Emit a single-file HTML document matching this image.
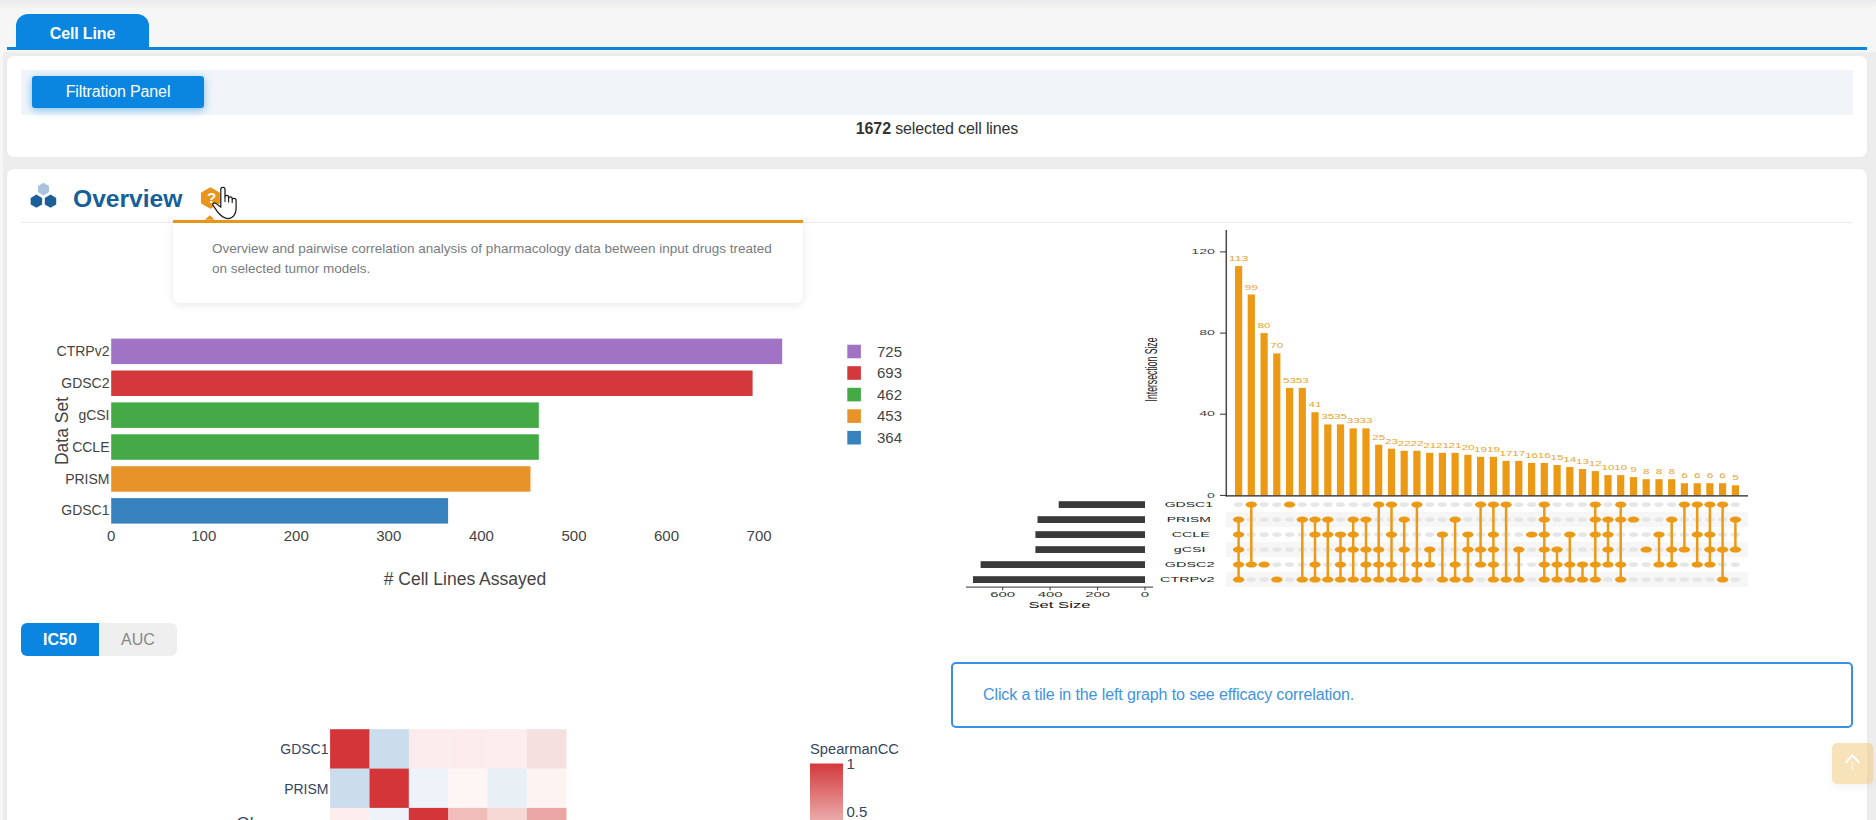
<!DOCTYPE html>
<html><head><meta charset="utf-8">
<style>
*{box-sizing:border-box;margin:0;padding:0}
html,body{width:1876px;height:820px;overflow:hidden}
body{background:#f6f6f6;font-family:"Liberation Sans",sans-serif;position:relative;color:#333}
.abs{position:absolute}
#topbg{left:2.5px;top:51.6px;width:1874px;height:780px;background:#ededed}
#topshadow{left:0;top:0;width:1876px;height:9px;background:linear-gradient(#e7e9eb,#efefef 30%,#f6f6f6)}
#tab{left:16px;top:14px;width:133px;height:34px;background:#0a86e0;border-radius:12px 12px 0 0;color:#fff;font-weight:bold;font-size:16px;text-align:center;line-height:40px;letter-spacing:-.15px}
#tabline{left:7px;top:47px;width:1860px;height:3px;background:#0d86da}
.card{background:#fff;border-radius:7px;box-shadow:0 0 3px rgba(0,0,0,.04)}
#card1{left:7px;top:56px;width:1860px;height:101px}
#card2{left:7px;top:169px;width:1860px;height:700px}
#fbar{left:21px;top:70px;width:1832px;height:45px;background:#f1f5fa}
#fbtn{left:32px;top:76px;width:172px;height:32px;background:#0a86e0;border-radius:3px;color:#fff;font-size:16px;text-align:center;line-height:31px;letter-spacing:-.13px;box-shadow:0 2px 8px rgba(10,134,224,.5)}
#sel{left:0;top:119px;width:1874px;letter-spacing:-.13px;text-align:center;font-size:16px;color:#333;line-height:20px}
#ovt{left:73px;top:183.5px;font-size:24.6px;font-weight:bold;color:#15609a;line-height:30px}
#hr{left:21px;top:222px;width:1832px;height:1px;background:#ececec}
#tip{left:173px;top:219.7px;width:630px;height:83px;background:#fff;border-top:3px solid #e8951c;border-radius:0 0 6px 6px;box-shadow:0 2px 9px rgba(0,0,0,.09)}
#tiptxt{left:212px;top:239.4px;width:600px;font-size:13.5px;line-height:20px;color:#787c82}
#ic50{left:21px;top:623px;width:78px;height:33px;background:#0a86e0;color:#fff;font-weight:bold;font-size:16px;text-align:center;line-height:33px;border-radius:6px 0 0 6px}
#auc{left:99px;top:623px;width:78px;height:33px;background:#efefef;color:#888;font-size:16px;text-align:center;line-height:33px;border-radius:0 6px 6px 0}
#info{left:951px;top:662px;width:902px;height:66px;border:2px solid #3a8fe2;border-radius:5px;color:#4193e0;font-size:16px;line-height:61px;padding-left:30px;background:#fff;letter-spacing:-.11px}
#totop{left:1832px;top:743px;width:41px;height:41px;background:rgba(241,197,115,.5);border-radius:5px;box-shadow:0 3px 10px rgba(0,0,0,.05)}
svg text{font-family:"Liberation Sans",sans-serif}
</style></head><body>
<div class="abs" id="topbg"></div>
<div class="abs" id="topshadow"></div>
<div class="abs" id="tabline"></div>
<div class="abs" id="tab">Cell Line</div>
<div class="abs card" id="card1"></div>
<div class="abs" id="fbar"></div>
<div class="abs" id="fbtn">Filtration Panel</div>
<div class="abs" id="sel"><b>1672</b> selected cell lines</div>
<div class="abs card" id="card2"></div>
<div class="abs" id="hr"></div>
<div class="abs" id="ovt">Overview</div>
<!--ICONS--><svg class="abs" style="left:20px;top:175px" width="240" height="50" viewBox="20 175 240 50">
<polygon points="43.50,182.80 48.96,185.95 48.96,192.25 43.50,195.40 38.04,192.25 38.04,185.95" fill="#a9c3de"/>
<polygon points="36.40,194.60 42.12,197.90 42.12,204.50 36.40,207.80 30.68,204.50 30.68,197.90" fill="#1b5e98"/>
<polygon points="50.50,194.60 56.22,197.90 56.22,204.50 50.50,207.80 44.78,204.50 44.78,197.90" fill="#1b5e98"/>
<polygon points="210.40,187.70 219.32,192.85 219.32,203.15 210.40,208.30 201.48,203.15 201.48,192.85" fill="#e8951c" stroke="#e8951c" stroke-width="1" stroke-linejoin="round"/>
<text x="211.5" y="203.4" text-anchor="middle" font-size="15" font-weight="bold" fill="#fff">?</text>
</svg><!--/ICONS-->
<!--BARCHART--><svg class="abs" style="left:0;top:320px" width="940" height="290" viewBox="0 320 940 290">
<rect x="111.2" y="338.6" width="671.0" height="25.5" fill="#a173c4"/>
<text x="109.5" y="355.9" text-anchor="end" font-size="14" fill="#444" class="pl">CTRPv2</text>
<rect x="111.2" y="370.5" width="641.4" height="25.5" fill="#d3393c"/>
<text x="109.5" y="387.8" text-anchor="end" font-size="14" fill="#444" class="pl">GDSC2</text>
<rect x="111.2" y="402.4" width="427.6" height="25.5" fill="#43aa45"/>
<text x="109.5" y="419.7" text-anchor="end" font-size="14" fill="#444" class="pl">gCSI</text>
<rect x="111.2" y="434.3" width="427.6" height="25.5" fill="#43aa45"/>
<text x="109.5" y="451.6" text-anchor="end" font-size="14" fill="#444" class="pl">CCLE</text>
<rect x="111.2" y="466.2" width="419.3" height="25.5" fill="#e8932a"/>
<text x="109.5" y="483.5" text-anchor="end" font-size="14" fill="#444" class="pl">PRISM</text>
<rect x="111.2" y="498.1" width="336.9" height="25.5" fill="#3782bd"/>
<text x="109.5" y="515.4" text-anchor="end" font-size="14" fill="#444" class="pl">GDSC1</text>
<text x="111.2" y="540.8" text-anchor="middle" font-size="15" fill="#444" class="pl">0</text>
<text x="203.8" y="540.8" text-anchor="middle" font-size="15" fill="#444" class="pl">100</text>
<text x="296.3" y="540.8" text-anchor="middle" font-size="15" fill="#444" class="pl">200</text>
<text x="388.8" y="540.8" text-anchor="middle" font-size="15" fill="#444" class="pl">300</text>
<text x="481.4" y="540.8" text-anchor="middle" font-size="15" fill="#444" class="pl">400</text>
<text x="574.0" y="540.8" text-anchor="middle" font-size="15" fill="#444" class="pl">500</text>
<text x="666.5" y="540.8" text-anchor="middle" font-size="15" fill="#444" class="pl">600</text>
<text x="759.1" y="540.8" text-anchor="middle" font-size="15" fill="#444" class="pl">700</text>
<text x="465" y="585" text-anchor="middle" font-size="17.5" fill="#444" class="pl2"># Cell Lines Assayed</text>
<text transform="translate(68,431) rotate(-90)" text-anchor="middle" font-size="17.5" fill="#444" class="pl2">Data Set</text>
<rect x="847.3" y="344.7" width="13.6" height="13.6" fill="#a173c4"/>
<text x="877" y="356.8" font-size="15" fill="#444" class="pl">725</text>
<rect x="847.3" y="366.2" width="13.6" height="13.6" fill="#d3393c"/>
<text x="877" y="378.4" font-size="15" fill="#444" class="pl">693</text>
<rect x="847.3" y="387.8" width="13.6" height="13.6" fill="#43aa45"/>
<text x="877" y="399.9" font-size="15" fill="#444" class="pl">462</text>
<rect x="847.3" y="409.3" width="13.6" height="13.6" fill="#e8932a"/>
<text x="877" y="421.4" font-size="15" fill="#444" class="pl">453</text>
<rect x="847.3" y="430.9" width="13.6" height="13.6" fill="#3782bd"/>
<text x="877" y="443.0" font-size="15" fill="#444" class="pl">364</text>
</svg><!--/BARCHART-->
<!--UPSET--><svg class="abs" style="left:940px;top:224px" width="913" height="396" viewBox="940 224 913 396">
<rect x="1226" y="512.1" width="522" height="15" fill="#f6f6f6"/>
<rect x="1226" y="542.1" width="522" height="15" fill="#f6f6f6"/>
<rect x="1226" y="572.1" width="522" height="15" fill="#f6f6f6"/>
<ellipse cx="1238.6" cy="504.6" rx="4.6" ry="2.3" fill="#e6e6e6"/>
<ellipse cx="1251.3" cy="519.6" rx="4.6" ry="2.3" fill="#e6e6e6"/>
<ellipse cx="1251.3" cy="534.6" rx="4.6" ry="2.3" fill="#e6e6e6"/>
<ellipse cx="1251.3" cy="549.6" rx="4.6" ry="2.3" fill="#e6e6e6"/>
<ellipse cx="1251.3" cy="579.6" rx="4.6" ry="2.3" fill="#e6e6e6"/>
<ellipse cx="1264.1" cy="504.6" rx="4.6" ry="2.3" fill="#e6e6e6"/>
<ellipse cx="1264.1" cy="519.6" rx="4.6" ry="2.3" fill="#e6e6e6"/>
<ellipse cx="1264.1" cy="534.6" rx="4.6" ry="2.3" fill="#e6e6e6"/>
<ellipse cx="1264.1" cy="549.6" rx="4.6" ry="2.3" fill="#e6e6e6"/>
<ellipse cx="1264.1" cy="579.6" rx="4.6" ry="2.3" fill="#e6e6e6"/>
<ellipse cx="1276.8" cy="504.6" rx="4.6" ry="2.3" fill="#e6e6e6"/>
<ellipse cx="1276.8" cy="519.6" rx="4.6" ry="2.3" fill="#e6e6e6"/>
<ellipse cx="1276.8" cy="534.6" rx="4.6" ry="2.3" fill="#e6e6e6"/>
<ellipse cx="1276.8" cy="549.6" rx="4.6" ry="2.3" fill="#e6e6e6"/>
<ellipse cx="1276.8" cy="564.6" rx="4.6" ry="2.3" fill="#e6e6e6"/>
<ellipse cx="1289.6" cy="519.6" rx="4.6" ry="2.3" fill="#e6e6e6"/>
<ellipse cx="1289.6" cy="534.6" rx="4.6" ry="2.3" fill="#e6e6e6"/>
<ellipse cx="1289.6" cy="549.6" rx="4.6" ry="2.3" fill="#e6e6e6"/>
<ellipse cx="1289.6" cy="564.6" rx="4.6" ry="2.3" fill="#e6e6e6"/>
<ellipse cx="1289.6" cy="579.6" rx="4.6" ry="2.3" fill="#e6e6e6"/>
<ellipse cx="1302.3" cy="504.6" rx="4.6" ry="2.3" fill="#e6e6e6"/>
<ellipse cx="1302.3" cy="534.6" rx="4.6" ry="2.3" fill="#e6e6e6"/>
<ellipse cx="1302.3" cy="549.6" rx="4.6" ry="2.3" fill="#e6e6e6"/>
<ellipse cx="1302.3" cy="564.6" rx="4.6" ry="2.3" fill="#e6e6e6"/>
<ellipse cx="1315.0" cy="504.6" rx="4.6" ry="2.3" fill="#e6e6e6"/>
<ellipse cx="1315.0" cy="549.6" rx="4.6" ry="2.3" fill="#e6e6e6"/>
<ellipse cx="1327.8" cy="504.6" rx="4.6" ry="2.3" fill="#e6e6e6"/>
<ellipse cx="1327.8" cy="549.6" rx="4.6" ry="2.3" fill="#e6e6e6"/>
<ellipse cx="1327.8" cy="564.6" rx="4.6" ry="2.3" fill="#e6e6e6"/>
<ellipse cx="1340.5" cy="504.6" rx="4.6" ry="2.3" fill="#e6e6e6"/>
<ellipse cx="1340.5" cy="519.6" rx="4.6" ry="2.3" fill="#e6e6e6"/>
<ellipse cx="1353.2" cy="504.6" rx="4.6" ry="2.3" fill="#e6e6e6"/>
<ellipse cx="1353.2" cy="564.6" rx="4.6" ry="2.3" fill="#e6e6e6"/>
<ellipse cx="1366.0" cy="504.6" rx="4.6" ry="2.3" fill="#e6e6e6"/>
<ellipse cx="1366.0" cy="534.6" rx="4.6" ry="2.3" fill="#e6e6e6"/>
<ellipse cx="1378.7" cy="519.6" rx="4.6" ry="2.3" fill="#e6e6e6"/>
<ellipse cx="1378.7" cy="534.6" rx="4.6" ry="2.3" fill="#e6e6e6"/>
<ellipse cx="1391.5" cy="519.6" rx="4.6" ry="2.3" fill="#e6e6e6"/>
<ellipse cx="1391.5" cy="549.6" rx="4.6" ry="2.3" fill="#e6e6e6"/>
<ellipse cx="1404.2" cy="504.6" rx="4.6" ry="2.3" fill="#e6e6e6"/>
<ellipse cx="1404.2" cy="534.6" rx="4.6" ry="2.3" fill="#e6e6e6"/>
<ellipse cx="1404.2" cy="564.6" rx="4.6" ry="2.3" fill="#e6e6e6"/>
<ellipse cx="1416.9" cy="519.6" rx="4.6" ry="2.3" fill="#e6e6e6"/>
<ellipse cx="1416.9" cy="534.6" rx="4.6" ry="2.3" fill="#e6e6e6"/>
<ellipse cx="1416.9" cy="549.6" rx="4.6" ry="2.3" fill="#e6e6e6"/>
<ellipse cx="1429.7" cy="504.6" rx="4.6" ry="2.3" fill="#e6e6e6"/>
<ellipse cx="1429.7" cy="519.6" rx="4.6" ry="2.3" fill="#e6e6e6"/>
<ellipse cx="1429.7" cy="534.6" rx="4.6" ry="2.3" fill="#e6e6e6"/>
<ellipse cx="1429.7" cy="579.6" rx="4.6" ry="2.3" fill="#e6e6e6"/>
<ellipse cx="1442.4" cy="504.6" rx="4.6" ry="2.3" fill="#e6e6e6"/>
<ellipse cx="1442.4" cy="519.6" rx="4.6" ry="2.3" fill="#e6e6e6"/>
<ellipse cx="1442.4" cy="549.6" rx="4.6" ry="2.3" fill="#e6e6e6"/>
<ellipse cx="1442.4" cy="564.6" rx="4.6" ry="2.3" fill="#e6e6e6"/>
<ellipse cx="1455.1" cy="504.6" rx="4.6" ry="2.3" fill="#e6e6e6"/>
<ellipse cx="1455.1" cy="534.6" rx="4.6" ry="2.3" fill="#e6e6e6"/>
<ellipse cx="1455.1" cy="549.6" rx="4.6" ry="2.3" fill="#e6e6e6"/>
<ellipse cx="1467.9" cy="504.6" rx="4.6" ry="2.3" fill="#e6e6e6"/>
<ellipse cx="1467.9" cy="519.6" rx="4.6" ry="2.3" fill="#e6e6e6"/>
<ellipse cx="1467.9" cy="564.6" rx="4.6" ry="2.3" fill="#e6e6e6"/>
<ellipse cx="1480.6" cy="519.6" rx="4.6" ry="2.3" fill="#e6e6e6"/>
<ellipse cx="1480.6" cy="534.6" rx="4.6" ry="2.3" fill="#e6e6e6"/>
<ellipse cx="1480.6" cy="579.6" rx="4.6" ry="2.3" fill="#e6e6e6"/>
<ellipse cx="1493.4" cy="519.6" rx="4.6" ry="2.3" fill="#e6e6e6"/>
<ellipse cx="1506.1" cy="519.6" rx="4.6" ry="2.3" fill="#e6e6e6"/>
<ellipse cx="1506.1" cy="534.6" rx="4.6" ry="2.3" fill="#e6e6e6"/>
<ellipse cx="1506.1" cy="549.6" rx="4.6" ry="2.3" fill="#e6e6e6"/>
<ellipse cx="1506.1" cy="564.6" rx="4.6" ry="2.3" fill="#e6e6e6"/>
<ellipse cx="1518.8" cy="504.6" rx="4.6" ry="2.3" fill="#e6e6e6"/>
<ellipse cx="1518.8" cy="519.6" rx="4.6" ry="2.3" fill="#e6e6e6"/>
<ellipse cx="1518.8" cy="534.6" rx="4.6" ry="2.3" fill="#e6e6e6"/>
<ellipse cx="1518.8" cy="564.6" rx="4.6" ry="2.3" fill="#e6e6e6"/>
<ellipse cx="1531.6" cy="504.6" rx="4.6" ry="2.3" fill="#e6e6e6"/>
<ellipse cx="1531.6" cy="519.6" rx="4.6" ry="2.3" fill="#e6e6e6"/>
<ellipse cx="1531.6" cy="549.6" rx="4.6" ry="2.3" fill="#e6e6e6"/>
<ellipse cx="1531.6" cy="564.6" rx="4.6" ry="2.3" fill="#e6e6e6"/>
<ellipse cx="1531.6" cy="579.6" rx="4.6" ry="2.3" fill="#e6e6e6"/>
<ellipse cx="1557.0" cy="504.6" rx="4.6" ry="2.3" fill="#e6e6e6"/>
<ellipse cx="1557.0" cy="519.6" rx="4.6" ry="2.3" fill="#e6e6e6"/>
<ellipse cx="1557.0" cy="534.6" rx="4.6" ry="2.3" fill="#e6e6e6"/>
<ellipse cx="1569.8" cy="504.6" rx="4.6" ry="2.3" fill="#e6e6e6"/>
<ellipse cx="1569.8" cy="519.6" rx="4.6" ry="2.3" fill="#e6e6e6"/>
<ellipse cx="1569.8" cy="549.6" rx="4.6" ry="2.3" fill="#e6e6e6"/>
<ellipse cx="1582.5" cy="504.6" rx="4.6" ry="2.3" fill="#e6e6e6"/>
<ellipse cx="1582.5" cy="519.6" rx="4.6" ry="2.3" fill="#e6e6e6"/>
<ellipse cx="1582.5" cy="534.6" rx="4.6" ry="2.3" fill="#e6e6e6"/>
<ellipse cx="1582.5" cy="549.6" rx="4.6" ry="2.3" fill="#e6e6e6"/>
<ellipse cx="1595.3" cy="549.6" rx="4.6" ry="2.3" fill="#e6e6e6"/>
<ellipse cx="1608.0" cy="504.6" rx="4.6" ry="2.3" fill="#e6e6e6"/>
<ellipse cx="1608.0" cy="579.6" rx="4.6" ry="2.3" fill="#e6e6e6"/>
<ellipse cx="1620.7" cy="534.6" rx="4.6" ry="2.3" fill="#e6e6e6"/>
<ellipse cx="1620.7" cy="549.6" rx="4.6" ry="2.3" fill="#e6e6e6"/>
<ellipse cx="1633.5" cy="504.6" rx="4.6" ry="2.3" fill="#e6e6e6"/>
<ellipse cx="1633.5" cy="534.6" rx="4.6" ry="2.3" fill="#e6e6e6"/>
<ellipse cx="1633.5" cy="549.6" rx="4.6" ry="2.3" fill="#e6e6e6"/>
<ellipse cx="1633.5" cy="564.6" rx="4.6" ry="2.3" fill="#e6e6e6"/>
<ellipse cx="1633.5" cy="579.6" rx="4.6" ry="2.3" fill="#e6e6e6"/>
<ellipse cx="1646.2" cy="504.6" rx="4.6" ry="2.3" fill="#e6e6e6"/>
<ellipse cx="1646.2" cy="519.6" rx="4.6" ry="2.3" fill="#e6e6e6"/>
<ellipse cx="1646.2" cy="534.6" rx="4.6" ry="2.3" fill="#e6e6e6"/>
<ellipse cx="1646.2" cy="564.6" rx="4.6" ry="2.3" fill="#e6e6e6"/>
<ellipse cx="1646.2" cy="579.6" rx="4.6" ry="2.3" fill="#e6e6e6"/>
<ellipse cx="1659.0" cy="504.6" rx="4.6" ry="2.3" fill="#e6e6e6"/>
<ellipse cx="1659.0" cy="519.6" rx="4.6" ry="2.3" fill="#e6e6e6"/>
<ellipse cx="1659.0" cy="549.6" rx="4.6" ry="2.3" fill="#e6e6e6"/>
<ellipse cx="1659.0" cy="579.6" rx="4.6" ry="2.3" fill="#e6e6e6"/>
<ellipse cx="1671.7" cy="504.6" rx="4.6" ry="2.3" fill="#e6e6e6"/>
<ellipse cx="1671.7" cy="534.6" rx="4.6" ry="2.3" fill="#e6e6e6"/>
<ellipse cx="1671.7" cy="579.6" rx="4.6" ry="2.3" fill="#e6e6e6"/>
<ellipse cx="1684.4" cy="519.6" rx="4.6" ry="2.3" fill="#e6e6e6"/>
<ellipse cx="1684.4" cy="534.6" rx="4.6" ry="2.3" fill="#e6e6e6"/>
<ellipse cx="1684.4" cy="564.6" rx="4.6" ry="2.3" fill="#e6e6e6"/>
<ellipse cx="1684.4" cy="579.6" rx="4.6" ry="2.3" fill="#e6e6e6"/>
<ellipse cx="1697.2" cy="519.6" rx="4.6" ry="2.3" fill="#e6e6e6"/>
<ellipse cx="1697.2" cy="549.6" rx="4.6" ry="2.3" fill="#e6e6e6"/>
<ellipse cx="1697.2" cy="579.6" rx="4.6" ry="2.3" fill="#e6e6e6"/>
<ellipse cx="1709.9" cy="519.6" rx="4.6" ry="2.3" fill="#e6e6e6"/>
<ellipse cx="1709.9" cy="579.6" rx="4.6" ry="2.3" fill="#e6e6e6"/>
<ellipse cx="1722.6" cy="519.6" rx="4.6" ry="2.3" fill="#e6e6e6"/>
<ellipse cx="1722.6" cy="534.6" rx="4.6" ry="2.3" fill="#e6e6e6"/>
<ellipse cx="1722.6" cy="564.6" rx="4.6" ry="2.3" fill="#e6e6e6"/>
<ellipse cx="1735.4" cy="504.6" rx="4.6" ry="2.3" fill="#e6e6e6"/>
<ellipse cx="1735.4" cy="534.6" rx="4.6" ry="2.3" fill="#e6e6e6"/>
<ellipse cx="1735.4" cy="564.6" rx="4.6" ry="2.3" fill="#e6e6e6"/>
<ellipse cx="1735.4" cy="579.6" rx="4.6" ry="2.3" fill="#e6e6e6"/>
<line x1="1238.6" x2="1238.6" y1="519.6" y2="579.6" stroke="#ec9916" stroke-width="2.5"/>
<ellipse cx="1238.6" cy="519.6" rx="5.7" ry="3" fill="#ec9916"/>
<ellipse cx="1238.6" cy="534.6" rx="5.7" ry="3" fill="#ec9916"/>
<ellipse cx="1238.6" cy="549.6" rx="5.7" ry="3" fill="#ec9916"/>
<ellipse cx="1238.6" cy="564.6" rx="5.7" ry="3" fill="#ec9916"/>
<ellipse cx="1238.6" cy="579.6" rx="5.7" ry="3" fill="#ec9916"/>
<line x1="1251.3" x2="1251.3" y1="504.6" y2="564.6" stroke="#ec9916" stroke-width="2.5"/>
<ellipse cx="1251.3" cy="504.6" rx="5.7" ry="3" fill="#ec9916"/>
<ellipse cx="1251.3" cy="564.6" rx="5.7" ry="3" fill="#ec9916"/>
<ellipse cx="1264.1" cy="564.6" rx="5.7" ry="3" fill="#ec9916"/>
<ellipse cx="1276.8" cy="579.6" rx="5.7" ry="3" fill="#ec9916"/>
<ellipse cx="1289.6" cy="504.6" rx="5.7" ry="3" fill="#ec9916"/>
<line x1="1302.3" x2="1302.3" y1="519.6" y2="579.6" stroke="#ec9916" stroke-width="2.5"/>
<ellipse cx="1302.3" cy="519.6" rx="5.7" ry="3" fill="#ec9916"/>
<ellipse cx="1302.3" cy="579.6" rx="5.7" ry="3" fill="#ec9916"/>
<line x1="1315.0" x2="1315.0" y1="519.6" y2="579.6" stroke="#ec9916" stroke-width="2.5"/>
<ellipse cx="1315.0" cy="519.6" rx="5.7" ry="3" fill="#ec9916"/>
<ellipse cx="1315.0" cy="534.6" rx="5.7" ry="3" fill="#ec9916"/>
<ellipse cx="1315.0" cy="564.6" rx="5.7" ry="3" fill="#ec9916"/>
<ellipse cx="1315.0" cy="579.6" rx="5.7" ry="3" fill="#ec9916"/>
<line x1="1327.8" x2="1327.8" y1="519.6" y2="579.6" stroke="#ec9916" stroke-width="2.5"/>
<ellipse cx="1327.8" cy="519.6" rx="5.7" ry="3" fill="#ec9916"/>
<ellipse cx="1327.8" cy="534.6" rx="5.7" ry="3" fill="#ec9916"/>
<ellipse cx="1327.8" cy="579.6" rx="5.7" ry="3" fill="#ec9916"/>
<line x1="1340.5" x2="1340.5" y1="534.6" y2="579.6" stroke="#ec9916" stroke-width="2.5"/>
<ellipse cx="1340.5" cy="534.6" rx="5.7" ry="3" fill="#ec9916"/>
<ellipse cx="1340.5" cy="549.6" rx="5.7" ry="3" fill="#ec9916"/>
<ellipse cx="1340.5" cy="564.6" rx="5.7" ry="3" fill="#ec9916"/>
<ellipse cx="1340.5" cy="579.6" rx="5.7" ry="3" fill="#ec9916"/>
<line x1="1353.2" x2="1353.2" y1="519.6" y2="579.6" stroke="#ec9916" stroke-width="2.5"/>
<ellipse cx="1353.2" cy="519.6" rx="5.7" ry="3" fill="#ec9916"/>
<ellipse cx="1353.2" cy="534.6" rx="5.7" ry="3" fill="#ec9916"/>
<ellipse cx="1353.2" cy="549.6" rx="5.7" ry="3" fill="#ec9916"/>
<ellipse cx="1353.2" cy="579.6" rx="5.7" ry="3" fill="#ec9916"/>
<line x1="1366.0" x2="1366.0" y1="519.6" y2="579.6" stroke="#ec9916" stroke-width="2.5"/>
<ellipse cx="1366.0" cy="519.6" rx="5.7" ry="3" fill="#ec9916"/>
<ellipse cx="1366.0" cy="549.6" rx="5.7" ry="3" fill="#ec9916"/>
<ellipse cx="1366.0" cy="564.6" rx="5.7" ry="3" fill="#ec9916"/>
<ellipse cx="1366.0" cy="579.6" rx="5.7" ry="3" fill="#ec9916"/>
<line x1="1378.7" x2="1378.7" y1="504.6" y2="579.6" stroke="#ec9916" stroke-width="2.5"/>
<ellipse cx="1378.7" cy="504.6" rx="5.7" ry="3" fill="#ec9916"/>
<ellipse cx="1378.7" cy="549.6" rx="5.7" ry="3" fill="#ec9916"/>
<ellipse cx="1378.7" cy="564.6" rx="5.7" ry="3" fill="#ec9916"/>
<ellipse cx="1378.7" cy="579.6" rx="5.7" ry="3" fill="#ec9916"/>
<line x1="1391.5" x2="1391.5" y1="504.6" y2="579.6" stroke="#ec9916" stroke-width="2.5"/>
<ellipse cx="1391.5" cy="504.6" rx="5.7" ry="3" fill="#ec9916"/>
<ellipse cx="1391.5" cy="534.6" rx="5.7" ry="3" fill="#ec9916"/>
<ellipse cx="1391.5" cy="564.6" rx="5.7" ry="3" fill="#ec9916"/>
<ellipse cx="1391.5" cy="579.6" rx="5.7" ry="3" fill="#ec9916"/>
<line x1="1404.2" x2="1404.2" y1="519.6" y2="579.6" stroke="#ec9916" stroke-width="2.5"/>
<ellipse cx="1404.2" cy="519.6" rx="5.7" ry="3" fill="#ec9916"/>
<ellipse cx="1404.2" cy="549.6" rx="5.7" ry="3" fill="#ec9916"/>
<ellipse cx="1404.2" cy="579.6" rx="5.7" ry="3" fill="#ec9916"/>
<line x1="1416.9" x2="1416.9" y1="504.6" y2="579.6" stroke="#ec9916" stroke-width="2.5"/>
<ellipse cx="1416.9" cy="504.6" rx="5.7" ry="3" fill="#ec9916"/>
<ellipse cx="1416.9" cy="564.6" rx="5.7" ry="3" fill="#ec9916"/>
<ellipse cx="1416.9" cy="579.6" rx="5.7" ry="3" fill="#ec9916"/>
<line x1="1429.7" x2="1429.7" y1="549.6" y2="564.6" stroke="#ec9916" stroke-width="2.5"/>
<ellipse cx="1429.7" cy="549.6" rx="5.7" ry="3" fill="#ec9916"/>
<ellipse cx="1429.7" cy="564.6" rx="5.7" ry="3" fill="#ec9916"/>
<line x1="1442.4" x2="1442.4" y1="534.6" y2="579.6" stroke="#ec9916" stroke-width="2.5"/>
<ellipse cx="1442.4" cy="534.6" rx="5.7" ry="3" fill="#ec9916"/>
<ellipse cx="1442.4" cy="579.6" rx="5.7" ry="3" fill="#ec9916"/>
<line x1="1455.1" x2="1455.1" y1="519.6" y2="579.6" stroke="#ec9916" stroke-width="2.5"/>
<ellipse cx="1455.1" cy="519.6" rx="5.7" ry="3" fill="#ec9916"/>
<ellipse cx="1455.1" cy="564.6" rx="5.7" ry="3" fill="#ec9916"/>
<ellipse cx="1455.1" cy="579.6" rx="5.7" ry="3" fill="#ec9916"/>
<line x1="1467.9" x2="1467.9" y1="534.6" y2="579.6" stroke="#ec9916" stroke-width="2.5"/>
<ellipse cx="1467.9" cy="534.6" rx="5.7" ry="3" fill="#ec9916"/>
<ellipse cx="1467.9" cy="549.6" rx="5.7" ry="3" fill="#ec9916"/>
<ellipse cx="1467.9" cy="579.6" rx="5.7" ry="3" fill="#ec9916"/>
<line x1="1480.6" x2="1480.6" y1="504.6" y2="564.6" stroke="#ec9916" stroke-width="2.5"/>
<ellipse cx="1480.6" cy="504.6" rx="5.7" ry="3" fill="#ec9916"/>
<ellipse cx="1480.6" cy="549.6" rx="5.7" ry="3" fill="#ec9916"/>
<ellipse cx="1480.6" cy="564.6" rx="5.7" ry="3" fill="#ec9916"/>
<line x1="1493.4" x2="1493.4" y1="504.6" y2="579.6" stroke="#ec9916" stroke-width="2.5"/>
<ellipse cx="1493.4" cy="504.6" rx="5.7" ry="3" fill="#ec9916"/>
<ellipse cx="1493.4" cy="534.6" rx="5.7" ry="3" fill="#ec9916"/>
<ellipse cx="1493.4" cy="549.6" rx="5.7" ry="3" fill="#ec9916"/>
<ellipse cx="1493.4" cy="564.6" rx="5.7" ry="3" fill="#ec9916"/>
<ellipse cx="1493.4" cy="579.6" rx="5.7" ry="3" fill="#ec9916"/>
<line x1="1506.1" x2="1506.1" y1="504.6" y2="579.6" stroke="#ec9916" stroke-width="2.5"/>
<ellipse cx="1506.1" cy="504.6" rx="5.7" ry="3" fill="#ec9916"/>
<ellipse cx="1506.1" cy="579.6" rx="5.7" ry="3" fill="#ec9916"/>
<line x1="1518.8" x2="1518.8" y1="549.6" y2="579.6" stroke="#ec9916" stroke-width="2.5"/>
<ellipse cx="1518.8" cy="549.6" rx="5.7" ry="3" fill="#ec9916"/>
<ellipse cx="1518.8" cy="579.6" rx="5.7" ry="3" fill="#ec9916"/>
<ellipse cx="1531.6" cy="534.6" rx="5.7" ry="3" fill="#ec9916"/>
<line x1="1544.3" x2="1544.3" y1="504.6" y2="579.6" stroke="#ec9916" stroke-width="2.5"/>
<ellipse cx="1544.3" cy="504.6" rx="5.7" ry="3" fill="#ec9916"/>
<ellipse cx="1544.3" cy="519.6" rx="5.7" ry="3" fill="#ec9916"/>
<ellipse cx="1544.3" cy="534.6" rx="5.7" ry="3" fill="#ec9916"/>
<ellipse cx="1544.3" cy="549.6" rx="5.7" ry="3" fill="#ec9916"/>
<ellipse cx="1544.3" cy="564.6" rx="5.7" ry="3" fill="#ec9916"/>
<ellipse cx="1544.3" cy="579.6" rx="5.7" ry="3" fill="#ec9916"/>
<line x1="1557.0" x2="1557.0" y1="549.6" y2="579.6" stroke="#ec9916" stroke-width="2.5"/>
<ellipse cx="1557.0" cy="549.6" rx="5.7" ry="3" fill="#ec9916"/>
<ellipse cx="1557.0" cy="564.6" rx="5.7" ry="3" fill="#ec9916"/>
<ellipse cx="1557.0" cy="579.6" rx="5.7" ry="3" fill="#ec9916"/>
<line x1="1569.8" x2="1569.8" y1="534.6" y2="579.6" stroke="#ec9916" stroke-width="2.5"/>
<ellipse cx="1569.8" cy="534.6" rx="5.7" ry="3" fill="#ec9916"/>
<ellipse cx="1569.8" cy="564.6" rx="5.7" ry="3" fill="#ec9916"/>
<ellipse cx="1569.8" cy="579.6" rx="5.7" ry="3" fill="#ec9916"/>
<line x1="1582.5" x2="1582.5" y1="564.6" y2="579.6" stroke="#ec9916" stroke-width="2.5"/>
<ellipse cx="1582.5" cy="564.6" rx="5.7" ry="3" fill="#ec9916"/>
<ellipse cx="1582.5" cy="579.6" rx="5.7" ry="3" fill="#ec9916"/>
<line x1="1595.3" x2="1595.3" y1="504.6" y2="579.6" stroke="#ec9916" stroke-width="2.5"/>
<ellipse cx="1595.3" cy="504.6" rx="5.7" ry="3" fill="#ec9916"/>
<ellipse cx="1595.3" cy="519.6" rx="5.7" ry="3" fill="#ec9916"/>
<ellipse cx="1595.3" cy="534.6" rx="5.7" ry="3" fill="#ec9916"/>
<ellipse cx="1595.3" cy="564.6" rx="5.7" ry="3" fill="#ec9916"/>
<ellipse cx="1595.3" cy="579.6" rx="5.7" ry="3" fill="#ec9916"/>
<line x1="1608.0" x2="1608.0" y1="519.6" y2="564.6" stroke="#ec9916" stroke-width="2.5"/>
<ellipse cx="1608.0" cy="519.6" rx="5.7" ry="3" fill="#ec9916"/>
<ellipse cx="1608.0" cy="534.6" rx="5.7" ry="3" fill="#ec9916"/>
<ellipse cx="1608.0" cy="549.6" rx="5.7" ry="3" fill="#ec9916"/>
<ellipse cx="1608.0" cy="564.6" rx="5.7" ry="3" fill="#ec9916"/>
<line x1="1620.7" x2="1620.7" y1="504.6" y2="579.6" stroke="#ec9916" stroke-width="2.5"/>
<ellipse cx="1620.7" cy="504.6" rx="5.7" ry="3" fill="#ec9916"/>
<ellipse cx="1620.7" cy="519.6" rx="5.7" ry="3" fill="#ec9916"/>
<ellipse cx="1620.7" cy="564.6" rx="5.7" ry="3" fill="#ec9916"/>
<ellipse cx="1620.7" cy="579.6" rx="5.7" ry="3" fill="#ec9916"/>
<ellipse cx="1633.5" cy="519.6" rx="5.7" ry="3" fill="#ec9916"/>
<ellipse cx="1646.2" cy="549.6" rx="5.7" ry="3" fill="#ec9916"/>
<line x1="1659.0" x2="1659.0" y1="534.6" y2="564.6" stroke="#ec9916" stroke-width="2.5"/>
<ellipse cx="1659.0" cy="534.6" rx="5.7" ry="3" fill="#ec9916"/>
<ellipse cx="1659.0" cy="564.6" rx="5.7" ry="3" fill="#ec9916"/>
<line x1="1671.7" x2="1671.7" y1="519.6" y2="564.6" stroke="#ec9916" stroke-width="2.5"/>
<ellipse cx="1671.7" cy="519.6" rx="5.7" ry="3" fill="#ec9916"/>
<ellipse cx="1671.7" cy="549.6" rx="5.7" ry="3" fill="#ec9916"/>
<ellipse cx="1671.7" cy="564.6" rx="5.7" ry="3" fill="#ec9916"/>
<line x1="1684.4" x2="1684.4" y1="504.6" y2="549.6" stroke="#ec9916" stroke-width="2.5"/>
<ellipse cx="1684.4" cy="504.6" rx="5.7" ry="3" fill="#ec9916"/>
<ellipse cx="1684.4" cy="549.6" rx="5.7" ry="3" fill="#ec9916"/>
<line x1="1697.2" x2="1697.2" y1="504.6" y2="564.6" stroke="#ec9916" stroke-width="2.5"/>
<ellipse cx="1697.2" cy="504.6" rx="5.7" ry="3" fill="#ec9916"/>
<ellipse cx="1697.2" cy="534.6" rx="5.7" ry="3" fill="#ec9916"/>
<ellipse cx="1697.2" cy="564.6" rx="5.7" ry="3" fill="#ec9916"/>
<line x1="1709.9" x2="1709.9" y1="504.6" y2="564.6" stroke="#ec9916" stroke-width="2.5"/>
<ellipse cx="1709.9" cy="504.6" rx="5.7" ry="3" fill="#ec9916"/>
<ellipse cx="1709.9" cy="534.6" rx="5.7" ry="3" fill="#ec9916"/>
<ellipse cx="1709.9" cy="549.6" rx="5.7" ry="3" fill="#ec9916"/>
<ellipse cx="1709.9" cy="564.6" rx="5.7" ry="3" fill="#ec9916"/>
<line x1="1722.6" x2="1722.6" y1="504.6" y2="579.6" stroke="#ec9916" stroke-width="2.5"/>
<ellipse cx="1722.6" cy="504.6" rx="5.7" ry="3" fill="#ec9916"/>
<ellipse cx="1722.6" cy="549.6" rx="5.7" ry="3" fill="#ec9916"/>
<ellipse cx="1722.6" cy="579.6" rx="5.7" ry="3" fill="#ec9916"/>
<line x1="1735.4" x2="1735.4" y1="519.6" y2="549.6" stroke="#ec9916" stroke-width="2.5"/>
<ellipse cx="1735.4" cy="519.6" rx="5.7" ry="3" fill="#ec9916"/>
<ellipse cx="1735.4" cy="549.6" rx="5.7" ry="3" fill="#ec9916"/>
<rect x="1235.0" y="266.1" width="7.2" height="229.3" fill="#ec9916"/>
<text x="1238.6" y="261.1" text-anchor="middle" font-size="6.8" fill="#e5a535" textLength="19.5" lengthAdjust="spacingAndGlyphs">113</text>
<rect x="1247.7" y="294.5" width="7.2" height="200.9" fill="#ec9916"/>
<text x="1251.3" y="289.5" text-anchor="middle" font-size="6.8" fill="#e5a535" textLength="13.0" lengthAdjust="spacingAndGlyphs">99</text>
<rect x="1260.5" y="333.1" width="7.2" height="162.3" fill="#ec9916"/>
<text x="1264.1" y="328.1" text-anchor="middle" font-size="6.8" fill="#e5a535" textLength="13.0" lengthAdjust="spacingAndGlyphs">80</text>
<rect x="1273.2" y="353.4" width="7.2" height="142.0" fill="#ec9916"/>
<text x="1276.8" y="348.4" text-anchor="middle" font-size="6.8" fill="#e5a535" textLength="13.0" lengthAdjust="spacingAndGlyphs">70</text>
<rect x="1286.0" y="387.9" width="7.2" height="107.5" fill="#ec9916"/>
<text x="1289.6" y="382.9" text-anchor="middle" font-size="6.8" fill="#e5a535" textLength="13.0" lengthAdjust="spacingAndGlyphs">53</text>
<rect x="1298.7" y="387.9" width="7.2" height="107.5" fill="#ec9916"/>
<text x="1302.3" y="382.9" text-anchor="middle" font-size="6.8" fill="#e5a535" textLength="13.0" lengthAdjust="spacingAndGlyphs">53</text>
<rect x="1311.4" y="412.2" width="7.2" height="83.2" fill="#ec9916"/>
<text x="1315.0" y="407.2" text-anchor="middle" font-size="6.8" fill="#e5a535" textLength="13.0" lengthAdjust="spacingAndGlyphs">41</text>
<rect x="1324.2" y="424.4" width="7.2" height="71.0" fill="#ec9916"/>
<text x="1327.8" y="419.4" text-anchor="middle" font-size="6.8" fill="#e5a535" textLength="13.0" lengthAdjust="spacingAndGlyphs">35</text>
<rect x="1336.9" y="424.4" width="7.2" height="71.0" fill="#ec9916"/>
<text x="1340.5" y="419.4" text-anchor="middle" font-size="6.8" fill="#e5a535" textLength="13.0" lengthAdjust="spacingAndGlyphs">35</text>
<rect x="1349.6" y="428.4" width="7.2" height="67.0" fill="#ec9916"/>
<text x="1353.2" y="423.4" text-anchor="middle" font-size="6.8" fill="#e5a535" textLength="13.0" lengthAdjust="spacingAndGlyphs">33</text>
<rect x="1362.4" y="428.4" width="7.2" height="67.0" fill="#ec9916"/>
<text x="1366.0" y="423.4" text-anchor="middle" font-size="6.8" fill="#e5a535" textLength="13.0" lengthAdjust="spacingAndGlyphs">33</text>
<rect x="1375.1" y="444.7" width="7.2" height="50.7" fill="#ec9916"/>
<text x="1378.7" y="439.7" text-anchor="middle" font-size="6.8" fill="#e5a535" textLength="13.0" lengthAdjust="spacingAndGlyphs">25</text>
<rect x="1387.9" y="448.7" width="7.2" height="46.7" fill="#ec9916"/>
<text x="1391.5" y="443.7" text-anchor="middle" font-size="6.8" fill="#e5a535" textLength="13.0" lengthAdjust="spacingAndGlyphs">23</text>
<rect x="1400.6" y="450.8" width="7.2" height="44.6" fill="#ec9916"/>
<text x="1404.2" y="445.8" text-anchor="middle" font-size="6.8" fill="#e5a535" textLength="13.0" lengthAdjust="spacingAndGlyphs">22</text>
<rect x="1413.3" y="450.8" width="7.2" height="44.6" fill="#ec9916"/>
<text x="1416.9" y="445.8" text-anchor="middle" font-size="6.8" fill="#e5a535" textLength="13.0" lengthAdjust="spacingAndGlyphs">22</text>
<rect x="1426.1" y="452.8" width="7.2" height="42.6" fill="#ec9916"/>
<text x="1429.7" y="447.8" text-anchor="middle" font-size="6.8" fill="#e5a535" textLength="13.0" lengthAdjust="spacingAndGlyphs">21</text>
<rect x="1438.8" y="452.8" width="7.2" height="42.6" fill="#ec9916"/>
<text x="1442.4" y="447.8" text-anchor="middle" font-size="6.8" fill="#e5a535" textLength="13.0" lengthAdjust="spacingAndGlyphs">21</text>
<rect x="1451.5" y="452.8" width="7.2" height="42.6" fill="#ec9916"/>
<text x="1455.1" y="447.8" text-anchor="middle" font-size="6.8" fill="#e5a535" textLength="13.0" lengthAdjust="spacingAndGlyphs">21</text>
<rect x="1464.3" y="454.8" width="7.2" height="40.6" fill="#ec9916"/>
<text x="1467.9" y="449.8" text-anchor="middle" font-size="6.8" fill="#e5a535" textLength="13.0" lengthAdjust="spacingAndGlyphs">20</text>
<rect x="1477.0" y="456.8" width="7.2" height="38.6" fill="#ec9916"/>
<text x="1480.6" y="451.8" text-anchor="middle" font-size="6.8" fill="#e5a535" textLength="13.0" lengthAdjust="spacingAndGlyphs">19</text>
<rect x="1489.8" y="456.8" width="7.2" height="38.6" fill="#ec9916"/>
<text x="1493.4" y="451.8" text-anchor="middle" font-size="6.8" fill="#e5a535" textLength="13.0" lengthAdjust="spacingAndGlyphs">19</text>
<rect x="1502.5" y="460.9" width="7.2" height="34.5" fill="#ec9916"/>
<text x="1506.1" y="455.9" text-anchor="middle" font-size="6.8" fill="#e5a535" textLength="13.0" lengthAdjust="spacingAndGlyphs">17</text>
<rect x="1515.2" y="460.9" width="7.2" height="34.5" fill="#ec9916"/>
<text x="1518.8" y="455.9" text-anchor="middle" font-size="6.8" fill="#e5a535" textLength="13.0" lengthAdjust="spacingAndGlyphs">17</text>
<rect x="1528.0" y="462.9" width="7.2" height="32.5" fill="#ec9916"/>
<text x="1531.6" y="457.9" text-anchor="middle" font-size="6.8" fill="#e5a535" textLength="13.0" lengthAdjust="spacingAndGlyphs">16</text>
<rect x="1540.7" y="462.9" width="7.2" height="32.5" fill="#ec9916"/>
<text x="1544.3" y="457.9" text-anchor="middle" font-size="6.8" fill="#e5a535" textLength="13.0" lengthAdjust="spacingAndGlyphs">16</text>
<rect x="1553.5" y="465.0" width="7.2" height="30.4" fill="#ec9916"/>
<text x="1557.0" y="460.0" text-anchor="middle" font-size="6.8" fill="#e5a535" textLength="13.0" lengthAdjust="spacingAndGlyphs">15</text>
<rect x="1566.2" y="467.0" width="7.2" height="28.4" fill="#ec9916"/>
<text x="1569.8" y="462.0" text-anchor="middle" font-size="6.8" fill="#e5a535" textLength="13.0" lengthAdjust="spacingAndGlyphs">14</text>
<rect x="1578.9" y="469.0" width="7.2" height="26.4" fill="#ec9916"/>
<text x="1582.5" y="464.0" text-anchor="middle" font-size="6.8" fill="#e5a535" textLength="13.0" lengthAdjust="spacingAndGlyphs">13</text>
<rect x="1591.7" y="471.1" width="7.2" height="24.3" fill="#ec9916"/>
<text x="1595.3" y="466.1" text-anchor="middle" font-size="6.8" fill="#e5a535" textLength="13.0" lengthAdjust="spacingAndGlyphs">12</text>
<rect x="1604.4" y="475.1" width="7.2" height="20.3" fill="#ec9916"/>
<text x="1608.0" y="470.1" text-anchor="middle" font-size="6.8" fill="#e5a535" textLength="13.0" lengthAdjust="spacingAndGlyphs">10</text>
<rect x="1617.1" y="475.1" width="7.2" height="20.3" fill="#ec9916"/>
<text x="1620.7" y="470.1" text-anchor="middle" font-size="6.8" fill="#e5a535" textLength="13.0" lengthAdjust="spacingAndGlyphs">10</text>
<rect x="1629.9" y="477.1" width="7.2" height="18.3" fill="#ec9916"/>
<text x="1633.5" y="472.1" text-anchor="middle" font-size="6.8" fill="#e5a535" textLength="6.5" lengthAdjust="spacingAndGlyphs">9</text>
<rect x="1642.6" y="479.2" width="7.2" height="16.2" fill="#ec9916"/>
<text x="1646.2" y="474.2" text-anchor="middle" font-size="6.8" fill="#e5a535" textLength="6.5" lengthAdjust="spacingAndGlyphs">8</text>
<rect x="1655.4" y="479.2" width="7.2" height="16.2" fill="#ec9916"/>
<text x="1659.0" y="474.2" text-anchor="middle" font-size="6.8" fill="#e5a535" textLength="6.5" lengthAdjust="spacingAndGlyphs">8</text>
<rect x="1668.1" y="479.2" width="7.2" height="16.2" fill="#ec9916"/>
<text x="1671.7" y="474.2" text-anchor="middle" font-size="6.8" fill="#e5a535" textLength="6.5" lengthAdjust="spacingAndGlyphs">8</text>
<rect x="1680.8" y="483.2" width="7.2" height="12.2" fill="#ec9916"/>
<text x="1684.4" y="478.2" text-anchor="middle" font-size="6.8" fill="#e5a535" textLength="6.5" lengthAdjust="spacingAndGlyphs">6</text>
<rect x="1693.6" y="483.2" width="7.2" height="12.2" fill="#ec9916"/>
<text x="1697.2" y="478.2" text-anchor="middle" font-size="6.8" fill="#e5a535" textLength="6.5" lengthAdjust="spacingAndGlyphs">6</text>
<rect x="1706.3" y="483.2" width="7.2" height="12.2" fill="#ec9916"/>
<text x="1709.9" y="478.2" text-anchor="middle" font-size="6.8" fill="#e5a535" textLength="6.5" lengthAdjust="spacingAndGlyphs">6</text>
<rect x="1719.0" y="483.2" width="7.2" height="12.2" fill="#ec9916"/>
<text x="1722.6" y="478.2" text-anchor="middle" font-size="6.8" fill="#e5a535" textLength="6.5" lengthAdjust="spacingAndGlyphs">6</text>
<rect x="1731.8" y="485.3" width="7.2" height="10.1" fill="#ec9916"/>
<text x="1735.4" y="480.3" text-anchor="middle" font-size="6.8" fill="#e5a535" textLength="6.5" lengthAdjust="spacingAndGlyphs">5</text>
<line x1="1226.3" x2="1226.3" y1="230" y2="496.4" stroke="#484848" stroke-width="1.5"/>
<line x1="1226" x2="1748" y1="495.9" y2="495.9" stroke="#222" stroke-width="1.3"/>
<line x1="1220" x2="1226" y1="495.4" y2="495.4" stroke="#333" stroke-width="1"/>
<text x="1215" y="497.5" text-anchor="end" font-size="7.3" fill="#444" textLength="7.9" lengthAdjust="spacingAndGlyphs">0</text>
<line x1="1220" x2="1226" y1="414.2" y2="414.2" stroke="#333" stroke-width="1"/>
<text x="1215" y="416.3" text-anchor="end" font-size="7.3" fill="#444" textLength="15.8" lengthAdjust="spacingAndGlyphs">40</text>
<line x1="1220" x2="1226" y1="333.1" y2="333.1" stroke="#333" stroke-width="1"/>
<text x="1215" y="335.2" text-anchor="end" font-size="7.3" fill="#444" textLength="15.8" lengthAdjust="spacingAndGlyphs">80</text>
<line x1="1220" x2="1226" y1="251.9" y2="251.9" stroke="#333" stroke-width="1"/>
<text x="1215" y="254.0" text-anchor="end" font-size="7.3" fill="#444" textLength="23.7" lengthAdjust="spacingAndGlyphs">120</text>
<text transform="translate(1157.3,369.5) rotate(-90)" text-anchor="middle" font-size="16" fill="#222" textLength="64" lengthAdjust="spacingAndGlyphs">Intersection Size</text>
<text x="1188.9" y="507.4" text-anchor="middle" font-size="7.5" fill="#222" textLength="48.4" lengthAdjust="spacingAndGlyphs">GDSC1</text>
<text x="1188.8" y="522.4" text-anchor="middle" font-size="7.5" fill="#222" textLength="44" lengthAdjust="spacingAndGlyphs">PRISM</text>
<text x="1190.7" y="537.4" text-anchor="middle" font-size="7.5" fill="#222" textLength="38" lengthAdjust="spacingAndGlyphs">CCLE</text>
<text x="1189.7" y="552.4" text-anchor="middle" font-size="7.5" fill="#222" textLength="31.7" lengthAdjust="spacingAndGlyphs">gCSI</text>
<text x="1189.6" y="567.4" text-anchor="middle" font-size="7.5" fill="#222" textLength="49.6" lengthAdjust="spacingAndGlyphs">GDSC2</text>
<text x="1187.2" y="582.4" text-anchor="middle" font-size="7.5" fill="#222" textLength="54.4" lengthAdjust="spacingAndGlyphs">CTRPv2</text>
<rect x="1058.7" y="501.2" width="86.3" height="6.8" fill="#3a3a3a"/>
<rect x="1037.5" y="516.2" width="107.5" height="6.8" fill="#3a3a3a"/>
<rect x="1035.4" y="531.2" width="109.6" height="6.8" fill="#3a3a3a"/>
<rect x="1035.4" y="546.2" width="109.6" height="6.8" fill="#3a3a3a"/>
<rect x="980.6" y="561.2" width="164.4" height="6.8" fill="#3a3a3a"/>
<rect x="973.0" y="576.2" width="172.0" height="6.8" fill="#3a3a3a"/>
<line x1="966" x2="1153" y1="587.1" y2="587.1" stroke="#333" stroke-width="1"/>
<line x1="1145.0" x2="1145.0" y1="587.1" y2="590.3" stroke="#333" stroke-width="1"/>
<text x="1145.0" y="596.8" text-anchor="middle" font-size="7" fill="#333" textLength="8.3" lengthAdjust="spacingAndGlyphs">0</text>
<line x1="1097.6" x2="1097.6" y1="587.1" y2="590.3" stroke="#333" stroke-width="1"/>
<text x="1097.6" y="596.8" text-anchor="middle" font-size="7" fill="#333" textLength="24.9" lengthAdjust="spacingAndGlyphs">200</text>
<line x1="1050.1" x2="1050.1" y1="587.1" y2="590.3" stroke="#333" stroke-width="1"/>
<text x="1050.1" y="596.8" text-anchor="middle" font-size="7" fill="#333" textLength="24.9" lengthAdjust="spacingAndGlyphs">400</text>
<line x1="1002.7" x2="1002.7" y1="587.1" y2="590.3" stroke="#333" stroke-width="1"/>
<text x="1002.7" y="596.8" text-anchor="middle" font-size="7" fill="#333" textLength="24.9" lengthAdjust="spacingAndGlyphs">600</text>
<text x="1059.5" y="607.6" text-anchor="middle" font-size="9" fill="#111" textLength="62" lengthAdjust="spacingAndGlyphs">Set Size</text>
</svg><!--/UPSET-->
<div class="abs" id="tip"></div>
<div class="abs" id="tiptxt">Overview and pairwise correlation analysis of pharmacology data between input drugs treated<br>on selected tumor models.</div>





<!--HAND--><svg class="abs" style="left:200px;top:180px" width="50" height="45" viewBox="200 180 50 45">
<polygon points="205,219.8 209.8,215.2 214.6,219.8" fill="#e8951c"/>
<g transform="translate(212.5,187)"><path d="M8.3,2.3 C8.3,1 9.3,0.4 10.4,0.4 C11.5,0.4 12.5,1.1 12.5,2.3 L12.5,10 C12.5,9 13.3,8.4 14.3,8.4 C15.3,8.4 16.1,9 16.1,10.2 L16.1,11.3 C16.1,10.3 16.9,9.8 17.9,9.8 C18.9,9.8 19.7,10.5 19.7,11.6 L19.7,12.8 C19.7,11.9 20.5,11.3 21.5,11.3 C22.7,11.3 23.6,12.1 23.6,13.4 L23.6,21.5 C23.6,27.2 20.5,31.5 15.5,31.5 C11,31.5 8.5,28.8 6,26 C4,23.5 2.5,21 0.9,18.9 C-0.6,17.3 1,15.2 3,16.2 C5,17.2 6.6,18.8 8.3,20.2 Z" fill="#fff" stroke="#1c1c1c" stroke-width="1.25" stroke-linejoin="round"/><path d="M12.5,10 L12.5,15 M16.1,11 L16.1,15.5 M19.7,12.5 L19.7,16" stroke="#1c1c1c" stroke-width="1.1" fill="none"/></g>
</svg><!--/HAND-->
<div class="abs" id="ic50">IC50</div>
<div class="abs" id="auc">AUC</div>
<div class="abs" id="info">Click a tile in the left graph to see efficacy correlation.</div>
<!--HEATMAP--><svg class="abs" style="left:200px;top:720px" width="720" height="100" viewBox="200 720 720 100">
<defs><linearGradient id="cb" x1="0" y1="0" x2="0" y2="1"><stop offset="0" stop-color="#d3393c"/><stop offset="0.92" stop-color="#faf1ef"/></linearGradient></defs>
<rect x="330.1" y="729.2" width="39.65" height="39.65" fill="#d33538"/>
<rect x="369.5" y="729.2" width="39.65" height="39.65" fill="#cbdcec"/>
<rect x="408.8" y="729.2" width="39.65" height="39.65" fill="#fbeceb"/>
<rect x="448.2" y="729.2" width="39.65" height="39.65" fill="#fbeceb"/>
<rect x="487.5" y="729.2" width="39.65" height="39.65" fill="#fbeeed"/>
<rect x="526.9" y="729.2" width="39.65" height="39.65" fill="#f5dfdf"/>
<rect x="330.1" y="768.6" width="39.65" height="39.65" fill="#cbdcec"/>
<rect x="369.5" y="768.6" width="39.65" height="39.65" fill="#d33538"/>
<rect x="408.8" y="768.6" width="39.65" height="39.65" fill="#eef3f9"/>
<rect x="448.2" y="768.6" width="39.65" height="39.65" fill="#fef6f4"/>
<rect x="487.5" y="768.6" width="39.65" height="39.65" fill="#e8f0f6"/>
<rect x="526.9" y="768.6" width="39.65" height="39.65" fill="#fdf3f1"/>
<rect x="330.1" y="807.9" width="39.65" height="39.65" fill="#fbeeec"/>
<rect x="369.5" y="807.9" width="39.65" height="39.65" fill="#eef3f9"/>
<rect x="408.8" y="807.9" width="39.65" height="39.65" fill="#d33538"/>
<rect x="448.2" y="807.9" width="39.65" height="39.65" fill="#f1bdba"/>
<rect x="487.5" y="807.9" width="39.65" height="39.65" fill="#f6d9d5"/>
<rect x="526.9" y="807.9" width="39.65" height="39.65" fill="#eaa6a3"/>
<text x="328.5" y="754" text-anchor="end" font-size="14" fill="#34455f" class="pl">GDSC1</text>
<text x="328.5" y="793.5" text-anchor="end" font-size="14" fill="#34455f" class="pl">PRISM</text>
<text x="810" y="754" font-size="14.7" fill="#34455f" class="pl">SpearmanCC</text>
<rect x="810" y="763.5" width="33" height="100" fill="url(#cb)"/>
<text x="846.5" y="769" font-size="15" fill="#34455f" class="pl">1</text>
<text x="846.5" y="817" font-size="15" fill="#34455f" class="pl">0.5</text>
<text x="236.5" y="828.7" font-size="17" fill="#34455f">Ol</text>
</svg><!--/HEATMAP-->
<div class="abs" id="totop"><svg width="42" height="41" viewBox="0 0 42 41"><path d="M13.4,19.8 L20.4,12.5 L27.4,19.8" stroke="#fff" stroke-width="2" fill="none"/><path d="M20.4,19 L20.4,27.5" stroke="#fdf3df" stroke-width="1.5" fill="none"/></svg></div>
</body></html>
